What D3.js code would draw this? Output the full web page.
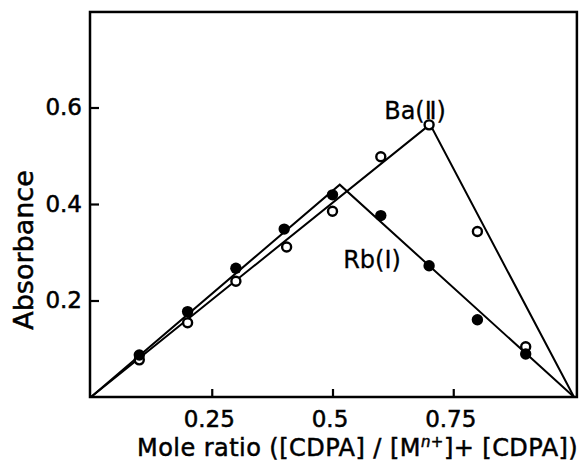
<!DOCTYPE html>
<html>
<head>
<meta charset="utf-8">
<script src="https://cdn.jsdelivr.net/npm/d3@7"></script>
<style>
  body { margin: 0; background: #fff; }
  svg { display: block; }
  text { font-family: "DejaVu Sans"; fill: #000; stroke: #000; stroke-width: 0.5px; }
</style>
</head>
<body>
<div id="chart"></div>
<script>
// values
let baRatio = [0.1, 0.2, 0.3, 0.405, 0.5, 0.6, 0.7, 0.8, 0.9];
let baAbs = [0.077, 0.154, 0.240, 0.311, 0.385, 0.498, 0.564, 0.343, 0.104];
let rbRatio = [0.1, 0.2, 0.3, 0.4, 0.5, 0.6, 0.7, 0.8, 0.9];
let rbAbs = [0.087, 0.177, 0.267, 0.348, 0.419, 0.376, 0.272, 0.160, 0.089];
// straight lines drawn through the points
let baFitX = [0, 0.702, 1];
let baFitY = [0, 0.565, 0];
let rbFitX = [0, 0.515, 1];
let rbFitY = [0, 0.44, 0];
let xTicks = [0.25, 0.5, 0.75];
let xTickLabels = ["0.25", "0.5", "0.75"];
let yTicks = [0.2, 0.4, 0.6];
let yTickLabels = ["0.2", "0.4", "0.6"];

let width = 581;
let height = 463;

let svg = d3.select("#chart").append("svg")
  .attr("width", width)
  .attr("height", height);

let xScale = d3.scaleLinear().domain([0, 1]).range([91, 574]);
let yScale = d3.scaleLinear().domain([0, 0.8]).range([397, 11]);

// frame
svg.append("rect")
  .attr("x", xScale(0) - 1)
  .attr("y", yScale(0.798))
  .attr("width", xScale(1.006) - xScale(0) + 1)
  .attr("height", yScale(0) - yScale(0.798))
  .attr("fill", "none")
  .attr("stroke", "#000")
  .attr("stroke-width", 2.5);

let xAxis = d3.axisBottom(xScale)
  .tickValues(xTicks)
  .tickFormat((d, i) => xTickLabels[i])
  .tickSizeInner(-8)
  .tickSizeOuter(0)
  .tickPadding(14);
let gX = svg.append("g")
  .attr("transform", `translate(0, ${yScale(0)})`)
  .call(xAxis);

let yAxis = d3.axisLeft(yScale)
  .tickValues(yTicks)
  .tickFormat((d, i) => yTickLabels[i])
  .tickSizeInner(-8)
  .tickSizeOuter(0)
  .tickPadding(9);
let gY = svg.append("g")
  .attr("transform", `translate(${xScale(0)}, 0)`)
  .call(yAxis);

for (let g of [gX, gY]) {
  g.select(".domain").remove();
  g.selectAll(".tick line").attr("stroke", "#000").attr("stroke-width", 2.2);
  g.selectAll(".tick text")
    .attr("fill", "#000")
    .style("font-family", "DejaVu Sans")
    .style("font-size", "23px");
}
gX.selectAll(".tick text").attr("dx", "-3");

// fitted lines
let line = d3.line()
  .x((d) => xScale(d[0]))
  .y((d) => yScale(d[1]));

svg.append("path")
  .datum(baFitX.map((x, i) => [x, baFitY[i]]))
  .attr("d", line)
  .attr("fill", "none")
  .attr("stroke", "#000")
  .attr("stroke-width", 2);
svg.append("path")
  .datum(rbFitX.map((x, i) => [x, rbFitY[i]]))
  .attr("d", line)
  .attr("fill", "none")
  .attr("stroke", "#000")
  .attr("stroke-width", 2);

// points
svg.selectAll("circle.ba")
  .data(baRatio.map((x, i) => [x, baAbs[i]]))
  .enter().append("circle")
  .classed("ba", true)
  .attr("cx", (d) => xScale(d[0]))
  .attr("cy", (d) => yScale(d[1]))
  .attr("r", 4.5)
  .attr("fill", "#fff")
  .attr("stroke", "#000")
  .attr("stroke-width", 2.4);

svg.selectAll("circle.rb")
  .data(rbRatio.map((x, i) => [x, rbAbs[i]]))
  .enter().append("circle")
  .classed("rb", true)
  .attr("cx", (d) => xScale(d[0]))
  .attr("cy", (d) => yScale(d[1]))
  .attr("r", 5.7)
  .attr("fill", "#000");

// series labels
svg.append("text")
  .attr("x", xScale(0.607))
  .attr("y", yScale(0.576))
  .style("font-size", "24px")
  .style("stroke-width", "0.3px")
  .text("Ba(Ⅱ)");
svg.append("text")
  .attr("x", xScale(0.522))
  .attr("y", yScale(0.267))
  .style("font-size", "24px")
  .style("stroke-width", "0.3px")
  .text("Rb(Ⅰ)");

// axis titles
let xTitle = svg.append("text")
  .attr("x", 137)
  .attr("y", 456)
  .style("font-size", "24px")
  .style("letter-spacing", "0.45px");
xTitle.append("tspan").text("Mole ratio  ([CDPA] / [M");
xTitle.append("tspan")
  .attr("baseline-shift", "super")
  .style("font-size", "15px")
  .html("<tspan font-style=\"italic\">n</tspan>+");
xTitle.append("tspan").text("]+ [CDPA])");

svg.append("text")
  .attr("transform", "translate(33, 250) rotate(-90)")
  .attr("text-anchor", "middle")
  .style("font-size", "27px")
  .text("Absorbance");
</script>
</body>
</html>
